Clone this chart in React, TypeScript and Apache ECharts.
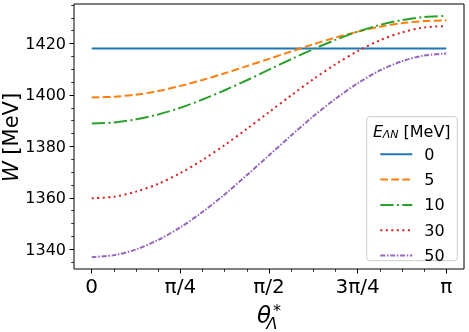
import React, { useEffect, useRef } from 'react';
import * as echarts from 'echarts';

// theta in units of pi/4
const thetaQuarterPi = [0, 0.25, 0.5, 0.75, 1, 1.25, 1.5, 1.75, 2, 2.25, 2.5, 2.75, 3, 3.25, 3.5, 3.75, 4];

const seriesNames = ['0', '5', '10', '30', '50'];

const W_E0 = [1418, 1418, 1418, 1418, 1418, 1418, 1418, 1418, 1418, 1418, 1418, 1418, 1418, 1418, 1418, 1418, 1418];
const W_E5 = [1399.0, 1399.3, 1400.1, 1401.5, 1403.5, 1405.8, 1408.4, 1411.2, 1414.0, 1416.9, 1419.7, 1422.3, 1424.6, 1426.5, 1427.9, 1428.7, 1429.0];
const W_E10 = [1388.9, 1389.3, 1390.5, 1392.4, 1395.0, 1398.2, 1401.8, 1405.7, 1409.8, 1413.9, 1417.8, 1421.4, 1424.6, 1427.2, 1429.1, 1430.3, 1430.7];
const W_E30 = [1359.8, 1360.4, 1362.4, 1365.4, 1369.6, 1374.7, 1380.5, 1386.8, 1393.3, 1399.8, 1406.1, 1411.9, 1417.0, 1421.2, 1424.3, 1426.2, 1426.8];
const W_E50 = [1336.9, 1337.7, 1339.9, 1343.6, 1348.5, 1354.5, 1361.3, 1368.8, 1376.5, 1384.2, 1391.7, 1398.5, 1404.5, 1409.5, 1413.1, 1415.3, 1416.1];

const xTickValues = [0, 1, 2, 3, 4];
const xTickLabels = ['0', 'π/4', 'π/2', '3π/4', 'π'];
const xMinorTicks = [0.25, 0.5, 0.75, 1.25, 1.5, 1.75, 2.25, 2.5, 2.75, 3.25, 3.5, 3.75];
const yTickValues = [1340, 1360, 1380, 1400, 1420];
const yMinorTicks = [1335, 1345, 1350, 1355, 1365, 1370, 1375, 1385, 1390, 1395, 1405, 1410, 1415, 1425, 1430, 1435];

const FONT = 'DejaVu Sans';
const colors = ['#1f77b4', '#ff7f0e', '#2ca02c', '#d62728', '#9467bd'];
const dashes: any[] = ['solid', [7.7, 3.3], [13.3, 3.3, 2.1, 3.3], [2.1, 3.4], [5, 1.7, 1.5, 1.7]];
const allSeries = [W_E0, W_E5, W_E10, W_E30, W_E50];

export default function App() {
  const ref = useRef<HTMLDivElement>(null);
  useEffect(() => {
    if (!ref.current) return;
    const chart = echarts.init(ref.current, undefined, { renderer: 'svg' });
    const X_MIN = -0.2, X_MAX = 4.2, Y_MIN = 1332.3, Y_MAX = 1435.35;
    chart.setOption({
      animation: false,
      grid: { left: 74, top: 4, right: 5, bottom: 63, show: true, borderColor: '#000', borderWidth: 1, backgroundColor: 'transparent' },
      xAxis: [
        {
          type: 'value', min: X_MIN, max: X_MAX, position: 'bottom',
          axisLine: { show: false, onZero: false }, splitLine: { show: false },
          axisTick: { show: true, customValues: xTickValues, length: 4.5, lineStyle: { color: '#000', width: 1 } },
          axisLabel: {
            customValues: xTickValues, fontSize: 20, fontFamily: FONT, color: '#000', margin: 7,
            formatter: (v: number) => xTickLabels[xTickValues.indexOf(Math.round(v))] ?? '',
          },
        },
        {
          type: 'value', min: X_MIN, max: X_MAX, position: 'bottom',
          axisLine: { show: false, onZero: false }, splitLine: { show: false }, axisLabel: { show: false },
          axisTick: { show: true, customValues: xMinorTicks, length: 2.8, lineStyle: { color: '#000', width: 0.8 } },
        },
      ],
      yAxis: [
        {
          type: 'value', min: Y_MIN, max: Y_MAX, position: 'left',
          axisLine: { show: false, onZero: false }, splitLine: { show: false },
          axisTick: { show: true, customValues: yTickValues, length: 4.5, lineStyle: { color: '#000', width: 1 } },
          axisLabel: {
            customValues: yTickValues, fontSize: 16, fontFamily: FONT, color: '#000', margin: 8,
            formatter: (v: number) => String(Math.round(v)),
          },
        },
        {
          type: 'value', min: Y_MIN, max: Y_MAX, position: 'left',
          axisLine: { show: false, onZero: false }, splitLine: { show: false }, axisLabel: { show: false },
          axisTick: { show: true, customValues: yMinorTicks, length: 2.8, lineStyle: { color: '#000', width: 0.8 } },
        },
      ],
      legend: {
        show: true, data: seriesNames, orient: 'vertical', left: 379.3, top: 146.3,
        itemWidth: 32, itemHeight: 14, itemGap: 9.3, padding: 0, z: 6,
        itemStyle: { opacity: 0 },
        textStyle: { fontSize: 16, fontFamily: FONT, color: '#000', padding: [0, 0, 0, 7] },
      },
      graphic: [
        {
          type: 'rect', z: 5,
          shape: { x: 366.7, y: 116.7, width: 90.6, height: 144, r: 3 },
          style: { fill: 'rgba(255,255,255,0.8)', stroke: '#cccccc', lineWidth: 1 },
        },
        { type: 'text', z: 10, x: 373, y: 131.1, style: { text: 'E', fontSize: 16, fontStyle: 'italic', fontFamily: FONT, fill: '#000', align: 'left', verticalAlign: 'middle' } },
        { type: 'text', z: 10, x: 382.7, y: 134.6, style: { text: 'ΛN', fontSize: 11, fontStyle: 'italic', fontFamily: FONT, fill: '#000', align: 'left', verticalAlign: 'middle' } },
        { type: 'text', z: 10, x: 403.5, y: 131.1, style: { text: '[MeV]', fontSize: 16, fontFamily: FONT, fill: '#000', align: 'left', verticalAlign: 'middle' } },
        {
          type: 'text', z: 10, x: 10.6, y: 137.5, rotation: Math.PI / 2,
          style: {
            text: '{w|W} [MeV]', fontSize: 21, fontFamily: FONT, fill: '#000', align: 'center', verticalAlign: 'middle',
            rich: { w: { fontSize: 21, fontStyle: 'italic', fontFamily: FONT, fill: '#000' } },
          },
        },
        { type: 'text', z: 10, x: 264, y: 314.5, style: { text: 'θ', fontSize: 23, fontStyle: 'italic', fontFamily: FONT, fill: '#000', align: 'center', verticalAlign: 'middle' } },
        { type: 'text', z: 10, x: 273, y: 310.5, style: { text: '*', fontSize: 16, fontFamily: FONT, fill: '#000', align: 'left', verticalAlign: 'middle' } },
        { type: 'text', z: 10, x: 266.5, y: 323.5, style: { text: 'Λ', fontSize: 16, fontStyle: 'italic', fontFamily: FONT, fill: '#000', align: 'left', verticalAlign: 'middle' } },
      ],
      series: allSeries.map((arr, i) => ({
        name: seriesNames[i],
        type: 'line',
        xAxisIndex: 0,
        yAxisIndex: 0,
        data: thetaQuarterPi.map((x, j) => [x, arr[j]]),
        showSymbol: false,
        symbol: 'none',
        smooth: 0.3,
        color: colors[i],
        lineStyle: { color: colors[i], width: 2, type: dashes[i], cap: 'butt' },
      })),
    });
    return () => chart.dispose();
  }, []);
  return <div ref={ref} style={{ position: 'fixed', left: 0, top: 0, width: 469, height: 332 }} />;
}
